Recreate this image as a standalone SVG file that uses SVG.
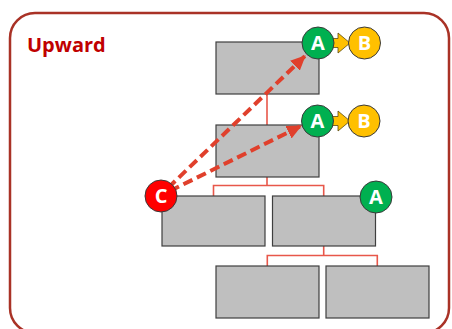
<svg xmlns="http://www.w3.org/2000/svg" width="452" height="329" viewBox="0 0 452 329">
<style>
.box{fill:#bfbfbf;stroke:#3f3f3f;stroke-width:1.2}
.tree{fill:none;stroke:#e8574a;stroke-width:1.6}
.dash{fill:none;stroke:#e0402c;stroke-width:4;stroke-dasharray:10 5}
.circ{stroke:#3a3a3a;stroke-width:1}
.lbl{font-family:"Open Sans","Liberation Sans",sans-serif;font-weight:bold;font-size:20px;fill:#fff;text-anchor:middle}
.yarrow{fill:#ffc000;stroke:#5a4a10;stroke-width:0.8}
</style>
<defs>
<marker id="ah" markerUnits="userSpaceOnUse" markerWidth="16" markerHeight="14" refX="14" refY="7" orient="auto">
<path d="M0,0 L15,7 L0,14 Z" fill="#e0402c"/>
</marker>
</defs>
<rect x="10" y="13" width="439" height="320" rx="25" fill="#fff" stroke="#a93226" stroke-width="2.5"/>
<text x="27" y="52" font-family="'Open Sans','Liberation Sans',sans-serif" font-weight="bold" font-size="20" fill="#c00000">Upward</text>
<g id="tree-connectors">
<path class="tree" d="M267,94 V125"/>
<path class="tree" d="M267,177 V185.5 M213.5,196 V185.5 H323.7 V196"/>
<path class="tree" d="M323.7,246 V255.5 M267.3,266 V255.5 H377.3 V266"/>
</g>
<g id="box1"><rect class="box" x="216" y="42" width="103" height="52"/></g>
<g id="box2"><rect class="box" x="216" y="125" width="103" height="52"/></g>
<g id="box3"><rect class="box" x="162" y="196" width="103" height="50"/></g>
<g id="box4"><rect class="box" x="272.5" y="196" width="103" height="50"/></g>
<g id="box5"><rect class="box" x="216" y="266" width="103" height="52"/></g>
<g id="box6"><rect class="box" x="326" y="266" width="103" height="52"/></g>
<g id="dashed-connectors">
<path class="dash" d="M168,188 L305,56" marker-end="url(#ah)"/>
<path class="dash" d="M170,191 L301,126" marker-end="url(#ah)"/>
</g>
<g id="ab1">
<path class="yarrow" d="M330,38.5 H338 V33 L350,43 L338,53 V47.5 H330 Z"/>
<circle class="circ" cx="318" cy="43" r="16" fill="#00b050"/>
<text class="lbl" x="318" y="50">A</text>
<circle class="circ" cx="364.5" cy="43" r="16" fill="#ffc000"/>
<text class="lbl" x="364.5" y="50">B</text>
</g>
<g id="ab2">
<path class="yarrow" d="M330,116.5 H338 V111 L350,121 L338,131 V125.5 H330 Z"/>
<circle class="circ" cx="317.5" cy="121" r="16" fill="#00b050"/>
<text class="lbl" x="317.5" y="128">A</text>
<circle class="circ" cx="364" cy="121" r="16" fill="#ffc000"/>
<text class="lbl" x="364" y="128">B</text>
</g>
<g id="c">
<circle class="circ" cx="161" cy="196" r="16" fill="#ff0000"/>
<text class="lbl" x="161" y="203">C</text>
</g>
<g id="a3">
<circle class="circ" cx="376" cy="197" r="16" fill="#00b050"/>
<text class="lbl" x="376" y="204">A</text>
</g>
</svg>
